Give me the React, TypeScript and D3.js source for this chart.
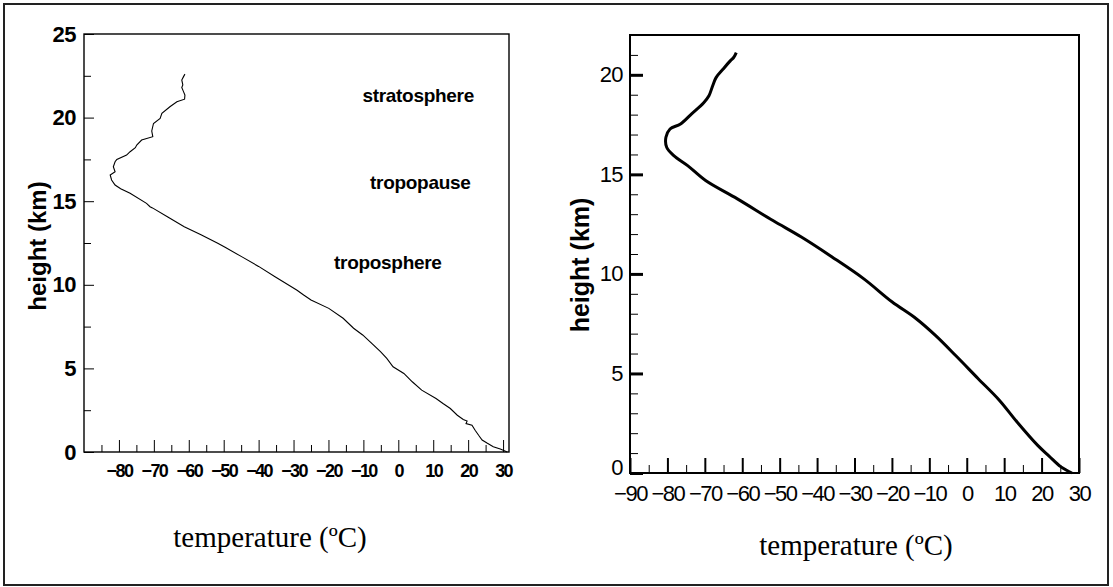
import { useEffect, useRef } from "react";
import * as d3 from "d3";

// left panel: sounding profile (thin, noisy)
const leftTemp = [
  31.2, 29.2, 27.2, 25.4, 24.0, 23.0, 22.0, 21.1, 19.4, 19.7, 18.6, 16.9, 14.9, 12.8, 10.8, 6.7, 4.0, 1.6,
  -1.5, -3.3, -5.1, -7.6, -10.2, -12.8, -15.8, -19.9, -25.0, -27.1, -29.1, -35.3, -40.0, -45.0, -49.6,
  -51.7, -56.5, -61.3, -66.0, -70.4, -71.1, -72.1, -76.8, -79.5, -81.1, -82.1, -82.5, -81.1, -81.6,
  -81.1, -80.6, -77.8, -76.8, -75.3, -74.9, -73.5, -70.3, -70.6, -70.1, -68.2, -67.7, -65.4, -63.4,
  -61.2, -61.1, -61.6, -62.0, -61.7, -62.0, -61.5, -61.1,
];
const leftHeight = [
  0, 0.18, 0.32, 0.54, 0.72, 1.0, 1.3, 1.6, 1.7, 1.85, 1.95, 2.2, 2.6, 2.9, 3.2, 3.7, 4.2, 4.7,
  5.1, 5.6, 6.0, 6.5, 7.0, 7.4, 8.0, 8.59, 9.09, 9.39, 9.69, 10.48, 11.1, 11.7, 12.24,
  12.48, 13.0, 13.47, 14.05, 14.6, 14.67, 14.87, 15.47, 15.75, 15.97, 16.27, 16.57, 16.76, 17.06,
  17.36, 17.5, 17.76, 17.96, 18.2, 18.36, 18.66, 18.86, 19.2, 19.65, 19.95, 20.25, 20.65, 20.95,
  21.1, 21.35, 21.6, 21.8, 21.95, 22.25, 22.45, 22.6,
];

// right panel: smoothed profile
const rightTemp = [
  28.1, 25.1, 22.0, 18.9, 13.5, 8.7, 3.0, -2.7, -8.3, -13.5, -20.0, -27.5, -36.0, -44.2, -51.8,
  -61.3, -69.8, -74.6, -78.3, -80.2, -80.4, -79.3, -76.5, -73.6, -70.3, -68.9, -67.9, -67.0, -65.1,
  -63.2, -62.3, -61.6,
];
const rightHeight = [
  0, 0.32, 0.85, 1.4, 2.55, 3.66, 4.75, 5.85, 6.9, 7.75, 8.6, 9.75, 10.85, 11.85, 12.68,
  13.77, 14.69, 15.44, 15.94, 16.36, 16.86, 17.28, 17.53, 18.03, 18.6, 18.95, 19.45, 19.86, 20.29,
  20.7, 20.87, 21.12,
];

const leftXTicks = [-80, -70, -60, -50, -40, -30, -20, -10, 0, 10, 20, 30];
const leftXMinor = [-85, -75, -65, -55, -45, -35, -25, -15, -5, 5, 15, 25];
const leftYTicks = [0, 5, 10, 15, 20, 25];
const leftYMinor = [2.5, 7.5, 12.5, 17.5, 22.5];

const rightXTicks = [-90, -80, -70, -60, -50, -40, -30, -20, -10, 0, 10, 20, 30];
const rightXMinor = [-85, -75, -65, -55, -45, -35, -25, -15, -5, 5, 15, 25];
const rightYTicks = [0, 5, 10, 15, 20];
const rightYMinor = [1, 2, 3, 4, 6, 7, 8, 9, 11, 12, 13, 14, 16, 17, 18, 19, 21];

const layerNames = ["stratosphere", "tropopause", "troposphere"];
const layerTemp = [5.7, 6.3, -3.0];
const layerHeight = [21.35, 16.1, 11.36];

const sans = "'Liberation Sans', Arial, Helvetica, sans-serif";
const serif = "'Liberation Serif', 'Times New Roman', serif";

export default function App() {
  const ref = useRef<SVGSVGElement>(null);

  useEffect(() => {
    const svg = d3.select(ref.current);
    svg.selectAll("*").remove();

    // outer frame
    svg.append("rect")
      .attr("x", 4).attr("y", 4).attr("width", 1104).attr("height", 581)
      .attr("fill", "none").attr("stroke", "#222").attr("stroke-width", 2);

    // ---------- left panel ----------
    const xL = d3.scaleLinear().domain([-90, 31.7]).range([84, 509]);
    const yL = d3.scaleLinear().domain([0, 25]).range([452, 34]);
    const gl = svg.append("g");

    gl.append("rect")
      .attr("x", xL(-90)).attr("y", yL(25))
      .attr("width", xL(31.7) - xL(-90)).attr("height", yL(0) - yL(25))
      .attr("fill", "none").attr("stroke", "#000").attr("stroke-width", 1.4);

    const lyMaj = gl.append("g").attr("transform", `translate(${xL(-90)},0)`)
      .call(d3.axisLeft(yL).tickValues(leftYTicks).tickSize(-10).tickPadding(8).tickFormat(d3.format("d")));
    lyMaj.selectAll("text").attr("font-size", 22).attr("font-weight", "bold")
      .attr("font-family", sans).attr("letter-spacing", -0.5);
    gl.append("g").attr("transform", `translate(${xL(-90)},0)`)
      .call(d3.axisLeft(yL).tickValues(leftYMinor).tickSize(-7).tickFormat(() => ""));

    const lxMaj = gl.append("g").attr("transform", `translate(0,${yL(0)})`)
      .call(d3.axisBottom(xL).tickValues(leftXTicks).tickSize(-12).tickPadding(12).tickFormat(d3.format("d")));
    lxMaj.selectAll("text").attr("font-size", 18).attr("font-weight", "bold")
      .attr("font-family", sans).attr("letter-spacing", -1.6);
    gl.append("g").attr("transform", `translate(0,${yL(0)})`)
      .call(d3.axisBottom(xL).tickValues(leftXMinor).tickSize(-7).tickFormat(() => ""));

    gl.selectAll(".domain").remove();
    gl.selectAll(".tick line").attr("stroke", "#000").attr("stroke-width", 1);

    const lineL = d3.line<number>().x((d) => xL(leftTemp[d])).y((d) => yL(leftHeight[d]));
    gl.append("path")
      .attr("d", lineL(d3.range(leftTemp.length)))
      .attr("fill", "none").attr("stroke", "#000").attr("stroke-width", 1.1);

    gl.selectAll(".layer").data(layerNames).enter().append("text")
      .attr("class", "layer")
      .attr("x", (_, i) => xL(layerTemp[i])).attr("y", (_, i) => yL(layerHeight[i]))
      .attr("text-anchor", "middle").attr("dominant-baseline", "central")
      .attr("font-family", sans).attr("font-weight", "bold").attr("font-size", 19)
      .attr("letter-spacing", -0.3)
      .text((d) => d);

    gl.append("text")
      .attr("transform", "translate(37,246) rotate(-90)")
      .attr("text-anchor", "middle").attr("dominant-baseline", "central")
      .attr("font-family", sans).attr("font-weight", "bold").attr("font-size", 24)
      .text("height (km)");

    gl.append("text")
      .attr("x", 270).attr("y", 537)
      .attr("text-anchor", "middle").attr("dominant-baseline", "central")
      .attr("font-family", serif).attr("font-size", 29)
      .text("temperature (ºC)");

    // ---------- right panel ----------
    const xR = d3.scaleLinear().domain([-90, 30]).range([630, 1079]);
    const yR = d3.scaleLinear().domain([0, 22]).range([473, 35]);
    const gr = svg.append("g");

    gr.append("rect")
      .attr("x", xR(-90)).attr("y", yR(22))
      .attr("width", xR(30) - xR(-90)).attr("height", yR(0) - yR(22))
      .attr("fill", "none").attr("stroke", "#000").attr("stroke-width", 2);

    const ryMaj = gr.append("g").attr("transform", `translate(${xR(-90)},0)`)
      .call(d3.axisLeft(yR).tickValues(rightYTicks).tickSize(-13).tickPadding(7).tickFormat(d3.format("d")));
    ryMaj.selectAll("line").attr("stroke-width", 3);
    ryMaj.selectAll("text").attr("font-size", 22).attr("font-family", sans).attr("letter-spacing", -0.6)
      .attr("dy", (d) => (d === 0 ? "0.05em" : "0.32em"));
    const ryMin = gr.append("g").attr("transform", `translate(${xR(-90)},0)`)
      .call(d3.axisLeft(yR).tickValues(rightYMinor).tickSize(-8).tickFormat(() => ""));
    ryMin.selectAll("line").attr("stroke-width", 1);

    const rxMaj = gr.append("g").attr("transform", `translate(0,${yR(0)})`)
      .call(d3.axisBottom(xR).tickValues(rightXTicks).tickSize(-15).tickPadding(12).tickFormat(d3.format("d")));
    rxMaj.selectAll("line").attr("stroke-width", 2);
    rxMaj.selectAll("text").attr("font-size", 22).attr("font-family", sans).attr("letter-spacing", -1.5);
    const rxMin = gr.append("g").attr("transform", `translate(0,${yR(0)})`)
      .call(d3.axisBottom(xR).tickValues(rightXMinor).tickSize(-8).tickFormat(() => ""));
    rxMin.selectAll("line").attr("stroke-width", 1);

    gr.selectAll(".domain").remove();
    gr.selectAll(".tick line").attr("stroke", "#000");

    const lineR = d3.line<number>()
      .x((d) => xR(rightTemp[d])).y((d) => yR(rightHeight[d]))
      .curve(d3.curveCatmullRom.alpha(0.5));
    gr.append("path")
      .attr("d", lineR(d3.range(rightTemp.length)))
      .attr("fill", "none").attr("stroke", "#000").attr("stroke-width", 3)
      .attr("stroke-linejoin", "round");

    gr.append("text")
      .attr("transform", "translate(580,265) rotate(-90)")
      .attr("text-anchor", "middle").attr("dominant-baseline", "central")
      .attr("font-family", sans).attr("font-weight", "bold").attr("font-size", 25)
      .text("height (km)");

    gr.append("text")
      .attr("x", 856).attr("y", 545)
      .attr("text-anchor", "middle").attr("dominant-baseline", "central")
      .attr("font-family", serif).attr("font-size", 29)
      .text("temperature (ºC)");
  }, []);

  return (
    <svg
      ref={ref}
      width={1113}
      height={587}
      style={{ position: "absolute", left: 0, top: 0, background: "#fff" }}
    />
  );
}
